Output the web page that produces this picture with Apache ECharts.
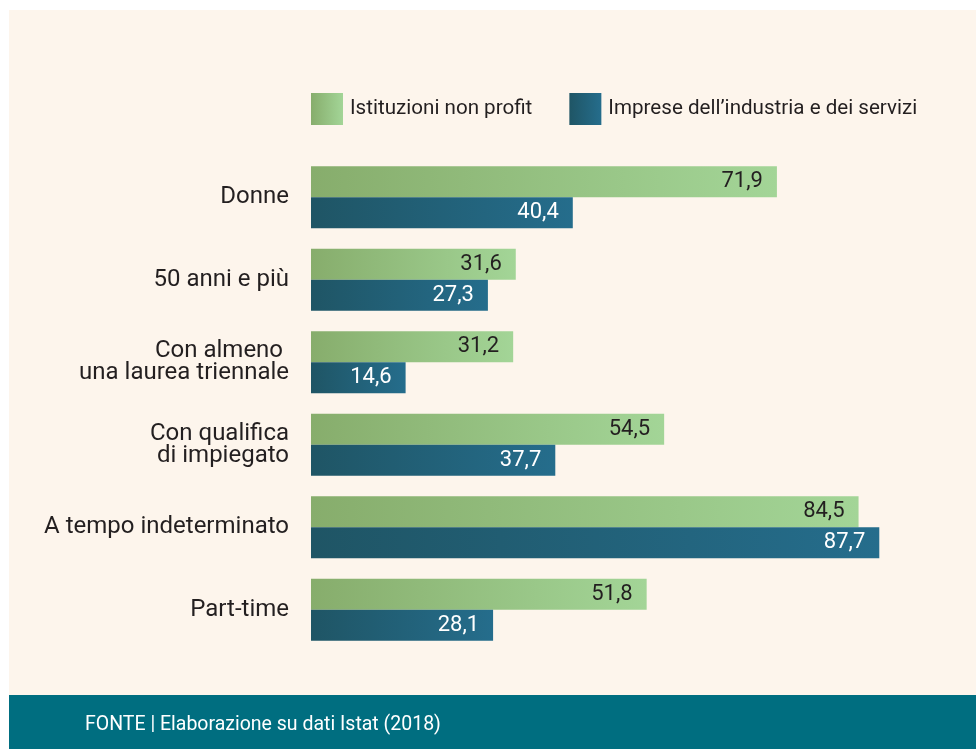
<!DOCTYPE html>
<html>
<head>
<meta charset="utf-8">
<title>Istituzioni non profit vs imprese</title>
<script src="https://cdn.jsdelivr.net/npm/echarts@6/dist/echarts.min.js"></script>
<style>
  html, body { margin: 0; padding: 0; background: #ffffff; }
  #chart { width: 976px; height: 749px; }
</style>
</head>
<body>
<div id="chart"></div>
<script>
// categorie (asse verticale, dall'alto in basso)
const categories = [
  'Donne',
  '50 anni e più',
  'Con almeno \nuna laurea triennale',
  'Con qualifica\ndi impiegato',
  'A tempo indeterminato',
  'Part-time'
]
const nonProfit = [71.9, 31.6, 31.2, 54.5, 84.5, 51.8]
const imprese = [40.4, 27.3, 14.6, 37.7, 87.7, 28.1]
const seriesNames = ['Istituzioni non profit', 'Imprese dell\u2019industria e dei servizi']
const sourceText = 'FONTE | Elaborazione su dati Istat (2018)'

const chart = echarts.init(document.getElementById('chart'))

const greenGrad = new echarts.graphic.LinearGradient(0, 0, 1, 0, [
  {offset: 0, color: '#87ad6c'},
  {offset: 1, color: '#a3d597'}
])
const blueGrad = new echarts.graphic.LinearGradient(0, 0, 1, 0, [
  {offset: 0, color: '#1f5565'},
  {offset: 1, color: '#256d8c'}
])

function fmt(p) {
  return String(p.value).replace('.', ',')
}

chart.setOption({
  backgroundColor: '#ffffff',
  textStyle: {
    fontFamily: 'Roboto, sans-serif',
  },
  graphic: [
    {
      type: 'rect',
      z: -10,
      shape: {x: 9, y: 10, width: 967, height: 685},
      style: {fill: '#fdf5ec'},
    },
    {
      type: 'rect',
      z: -10,
      shape: {x: 9, y: 695, width: 967, height: 54},
      style: {fill: '#006e80'},
    },
    {
      type: 'text',
      left: 85,
      top: 715,
      style: {
        text: sourceText,
        fill: '#ffffff',
        font: '19.5px Roboto, sans-serif',
      },
    },
  ],
  legend: {
    left: 311,
    top: 93,
    padding: 0,
    icon: 'rect',
    itemWidth: 32,
    itemHeight: 32,
    itemGap: 37,
    textStyle: {
      fontSize: 20.6,
      color: '#231f20',
      padding: [0, 0, 0, 2],
    },
    data: seriesNames,
  },
  grid: {
    left: 311,
    right: 17,
    top: 156,
    bottom: 98,
  },
  xAxis: {
    type: 'value',
    min: 0,
    max: 100,
    show: false,
  },
  yAxis: {
    type: 'category',
    inverse: true,
    data: categories,
    axisLine: {show: false},
    axisTick: {show: false},
    axisLabel: {
      fontSize: 24,
      color: '#231f20',
      margin: 22,
      lineHeight: 22,
    },
  },
  series: [
    {
      name: seriesNames[0],
      type: 'bar',
      data: nonProfit,
      barWidth: 31,
      barGap: '0%',
      itemStyle: {color: greenGrad},
      label: {
        show: true,
        position: 'insideRight',
        distance: 14,
        fontSize: 22,
        color: '#231f20',
        formatter: fmt,
      },
    },
    {
      name: seriesNames[1],
      type: 'bar',
      data: imprese,
      barWidth: 31,
      barGap: '0%',
      itemStyle: {color: blueGrad},
      label: {
        show: true,
        position: 'insideRight',
        distance: 14,
        fontSize: 22,
        color: '#ffffff',
        formatter: fmt,
      },
    },
  ],
})
</script>
</body>
</html>
